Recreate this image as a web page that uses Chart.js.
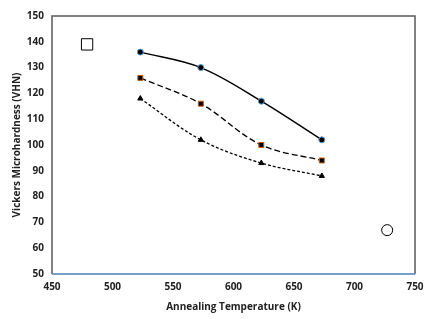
<!DOCTYPE html>
<html>
<head>
<meta charset="utf-8">
<script src="https://cdn.jsdelivr.net/npm/chart.js@4.4.0/dist/chart.umd.min.js"></script>
<style>
  html, body { margin: 0; padding: 0; background: #fff; }
  #wrap { width: 432px; height: 319px; }
</style>
</head>
<body>
<div id="wrap"><canvas id="c" width="432" height="319"></canvas></div>
<script>
// ---------- Data ----------
const temps = [523, 573, 623, 673];
const hvCircle = [136, 130, 117, 102];
const hvSquare = [126, 116, 100, 94];
const hvTriangle = [118, 102, 93, 88];
const xTicks = [450, 500, 550, 600, 650, 700, 750];
const yTicks = [50, 60, 70, 80, 90, 100, 110, 120, 130, 140, 150];
// open markers placed in the plot
const openSquare = { x: 479, y: 139 };
const openCircle = { x: 727, y: 67 };

const pts = (ys) => temps.map((t, i) => ({ x: t, y: ys[i] }));

// ---------- Frame plugin ----------
const framePlugin = {
  id: "frame",
  afterDatasetsDraw(chart) {
    const { ctx, chartArea: a } = chart;
    ctx.save();
    ctx.lineWidth = 1.5;
    ctx.strokeStyle = "#5a5a5a";
    ctx.beginPath();
    ctx.moveTo(a.left, a.bottom);
    ctx.lineTo(a.left, a.top);
    ctx.lineTo(a.right, a.top);
    ctx.lineTo(a.right, a.bottom);
    ctx.stroke();
    ctx.strokeStyle = "#4a7ebb";
    ctx.beginPath();
    ctx.moveTo(a.left, a.bottom);
    ctx.lineTo(a.right, a.bottom);
    ctx.stroke();
    ctx.restore();
  }
};

const font = { family: "'Open Sans', 'DejaVu Sans', sans-serif", size: 10, weight: "bold" };

new Chart(document.getElementById("c"), {
  type: "scatter",
  data: {
    datasets: [
      {
        data: pts(hvCircle),
        showLine: true,
        borderColor: "#000",
        borderWidth: 1.5,
        tension: 0.35,
        pointStyle: "circle",
        pointRadius: 3,
        pointBackgroundColor: "#000",
        pointBorderColor: "#5b9bd5",
        pointBorderWidth: 1
      },
      {
        data: pts(hvSquare),
        showLine: true,
        borderColor: "#000",
        borderWidth: 1.3,
        borderDash: [6, 3],
        tension: 0.35,
        pointStyle: "rect",
        pointRadius: 3.5,
        pointBackgroundColor: "#000",
        pointBorderColor: "#c55a11",
        pointBorderWidth: 1
      },
      {
        data: pts(hvTriangle),
        showLine: true,
        borderColor: "#000",
        borderWidth: 1.3,
        borderDash: [3, 2],
        tension: 0.35,
        pointStyle: "triangle",
        pointRadius: 3,
        pointBackgroundColor: "#000",
        pointBorderColor: "#000",
        pointBorderWidth: 1
      },
      {
        data: [openSquare],
        pointStyle: "rect",
        pointRadius: 8,
        pointBackgroundColor: "#fff",
        pointBorderColor: "#000",
        pointBorderWidth: 1
      },
      {
        data: [openCircle],
        pointStyle: "circle",
        pointRadius: 5.5,
        pointBackgroundColor: "#fff",
        pointBorderColor: "#000",
        pointBorderWidth: 1
      }
    ]
  },
  options: {
    responsive: false,
    animation: false,
    layout: { padding: { left: 7, right: 17, top: 16, bottom: 2 } },
    plugins: { legend: { display: false }, tooltip: { enabled: false } },
    scales: {
      x: {
        type: "linear",
        min: 450,
        max: 750,
        afterBuildTicks: (s) => { s.ticks = xTicks.map((v) => ({ value: v })); },
        afterFit: (s) => { s.height = 43; },
        grid: { display: false, drawTicks: false },
        border: { display: false },
        ticks: { color: "#222", font, padding: 7 },
        title: { display: true, text: "Annealing Temperature (K)", color: "#222", font, padding: { top: 5 } }
      },
      y: {
        min: 50,
        max: 150,
        afterBuildTicks: (s) => { s.ticks = yTicks.map((v) => ({ value: v })); },
        afterFit: (s) => { s.width = 45; },
        grid: { display: false, drawTicks: false },
        border: { display: false },
        ticks: { color: "#222", font, padding: 8 },
        title: { display: true, text: "Vickers Microhardness (VHN)", color: "#222", font, padding: { bottom: 2 } }
      }
    }
  },
  plugins: [framePlugin]
});
</script>
</body>
</html>
